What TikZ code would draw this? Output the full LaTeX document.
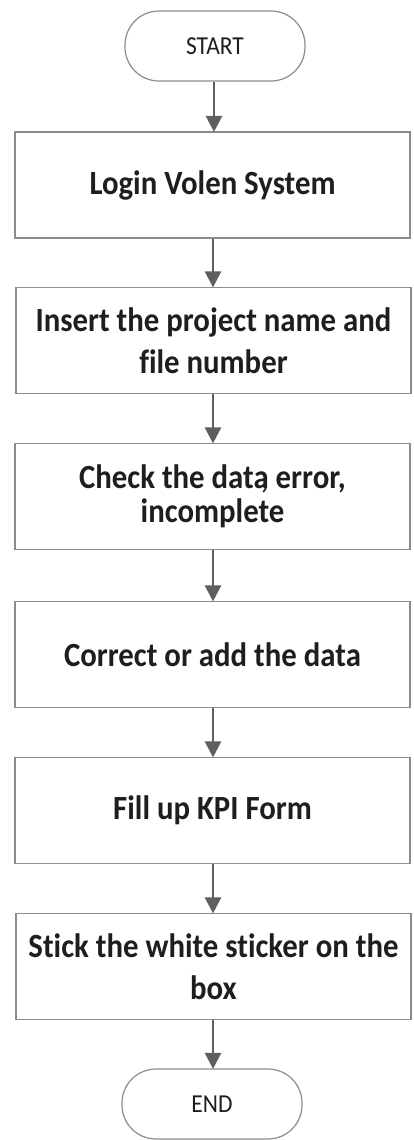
\documentclass[tikz,border=0pt]{standalone}
\usepackage{fontspec}
\setmainfont[Ligatures={NoCommon}]{Carlito}
\usetikzlibrary{arrows.meta}
\definecolor{boxline}{HTML}{8C8C8C}
\definecolor{flowarrow}{HTML}{5F5F5F}
\definecolor{ink}{HTML}{1E1E1E}
% slightly tall lettering for the step texts
\newcommand{\tallline}[1]{\scalebox{1}[1.1]{#1}}
\begin{document}
\begin{tikzpicture}[x=1pt,y=1pt,
  stepbox/.style={draw=boxline, line width=1.2pt, rectangle,
    minimum width=395pt, minimum height=106pt, inner sep=0pt,
    align=center, text=ink, font=\fontsize{30.8}{42}\selectfont\bfseries},
  terminal/.style={draw=boxline, line width=1.2pt, rectangle,
    rounded corners=34pt, minimum width=180pt, minimum height=70pt,
    inner sep=0pt, text=ink, font=\fontsize{23.5}{28}\selectfont},
  flow/.style={draw=flowarrow, line width=2.6pt,
    -{Triangle[width=16pt,length=16pt]}, shorten >=-0.5pt}]
  \useasboundingbox[fill=white] (0,0) rectangle (414,-1140);

  \node[terminal] (start) at (215,-46) {\tallline{START}};
  \node[stepbox] (login) at (212.5,-185) {\tallline{Login Volen System}};
  \node[stepbox] (insert) at (213.5,-340.5)
    {\tallline{Insert the project name and}\\\tallline{file number}};
  \node[stepbox, font=\fontsize{30.8}{34}\selectfont\bfseries] (check) at (212.5,-496.5)
    {\tallline{Check the data\llap{,} error,}\\\tallline{incomplete}};
  \node[stepbox] (correct) at (212.5,-654.5) {\tallline{Correct or add the data}};
  \node[stepbox] (kpi) at (212.5,-810.5) {\tallline{Fill up KPI Form}};
  \node[stepbox] (stick) at (213.5,-966.5)
    {\tallline{Stick the white sticker on the}\\\tallline{box}};
  \node[terminal] (end) at (212,-1104) {\tallline{END}};

  \draw[flow] (start.south -| 214,0) -- (login.north -| 214,0);
  \draw[flow] (login.south -| 213,0) -- (insert.north -| 213,0);
  \draw[flow] (insert.south -| 213,0) -- (check.north -| 213,0);
  \draw[flow] (check.south -| 213,0) -- (correct.north -| 213,0);
  \draw[flow] (correct.south -| 213,0) -- (kpi.north -| 213,0);
  \draw[flow] (kpi.south -| 213,0) -- (stick.north -| 213,0);
  \draw[flow] (stick.south -| 213,0) -- (end.north -| 213,0);
\end{tikzpicture}
\end{document}
